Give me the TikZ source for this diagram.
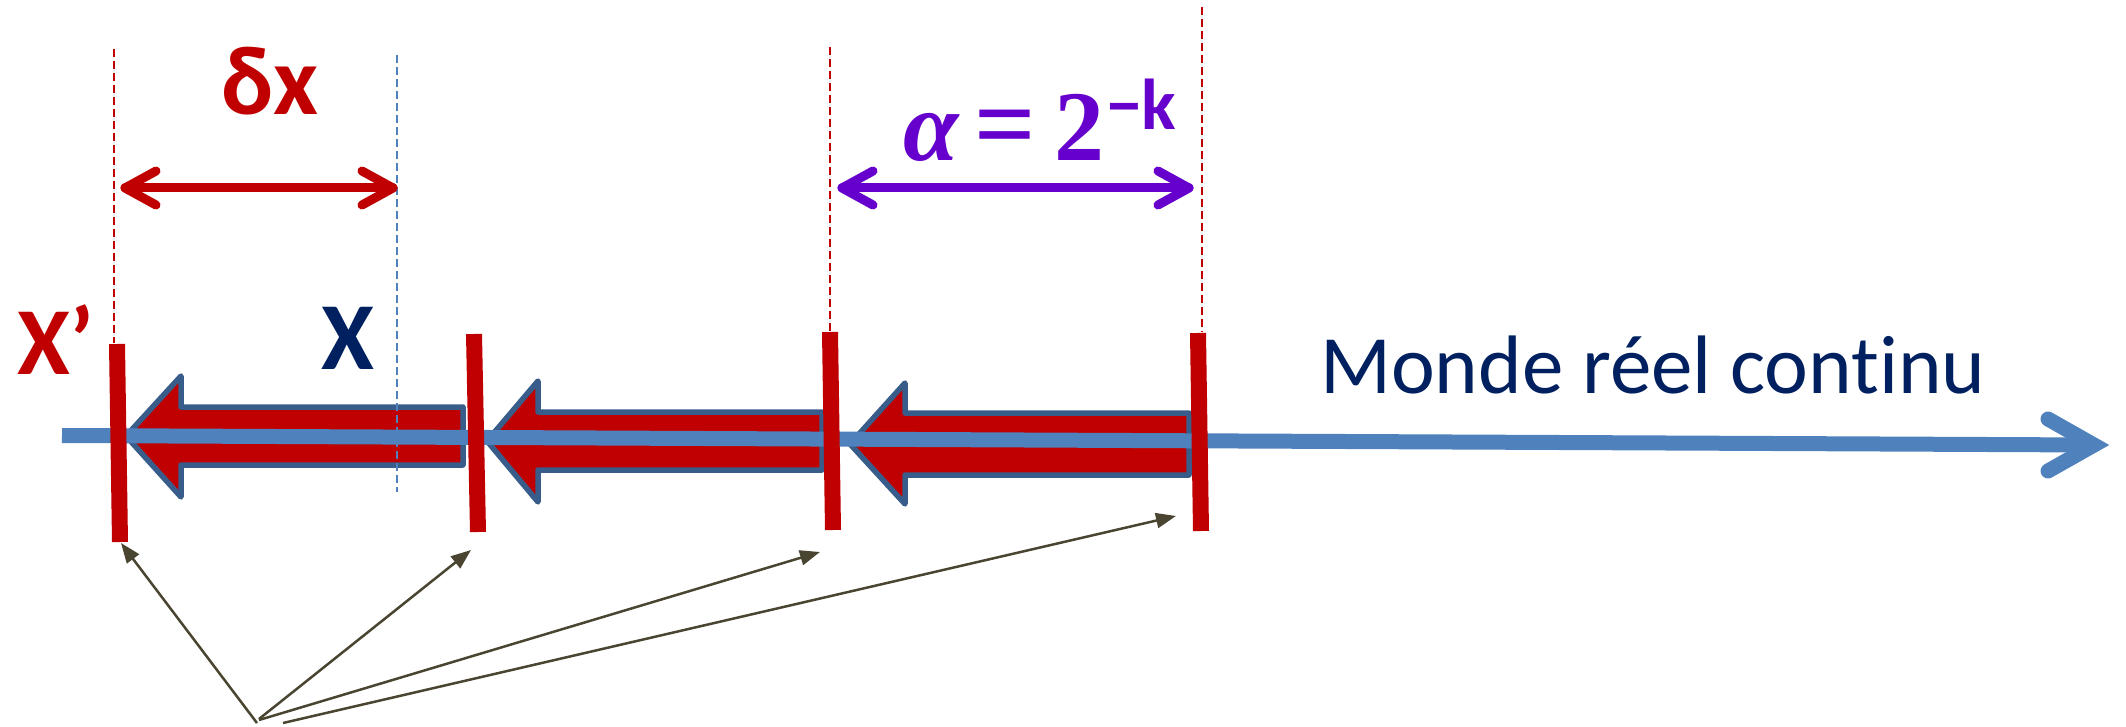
\documentclass[tikz,border=0pt]{standalone}
\usepackage[no-math]{fontspec}
\setmainfont{Carlito}[Ligatures={NoCommon,NoRare}]
\newfontfamily\symserif{Liberation Serif}
\usetikzlibrary{arrows.meta}
\definecolor{arrred}{HTML}{C00000}
\definecolor{arrborder}{HTML}{385D8A}
\definecolor{axisblue}{HTML}{4F81BD}
\definecolor{navy}{HTML}{002060}
\definecolor{violet}{HTML}{6600CC}
\definecolor{olivedark}{HTML}{4A4530}
\begin{document}
\begin{tikzpicture}[x=1pt,y=-1pt,
  blockarrow/.style={fill=arrred, draw=arrborder, line width=5.5pt, line join=round},
  tickbar/.style={draw=arrred, line width=16pt},
  guide/.style={draw=arrred, line width=2.5pt, dash pattern=on 8pt off 4pt},
  bguide/.style={draw=axisblue, line width=2.5pt, dash pattern=on 8pt off 4pt},
  dimline/.style={line width=9pt, line cap=round, line join=round},
  pointer/.style={draw=olivedark, line width=2.5pt, -{Triangle[length=20pt,width=15pt]}},
  lbl/.style={inner sep=0pt, anchor=base west},
  axisline/.style={draw=axisblue, line width=15pt}
]
\useasboundingbox (0,0) rectangle (2126,727);

% guide lines
\coordinate (g1t) at (114,49);   \coordinate (g1b) at (114,343);
\coordinate (g2t) at (830,47);   \coordinate (g2b) at (830,332);
\coordinate (g3t) at (1202,7);   \coordinate (g3b) at (1202,332);
\coordinate (gbt) at (397,55);   \coordinate (gbb) at (397,492);
\draw[guide] (g1t) -- (g1b);
\draw[guide] (g2t) -- (g2b);
\draw[guide] (g3t) -- (g3b);

% block arrows
\draw[blockarrow] (126,436) -- (181,376) -- (181,407) -- (463,407) -- (463,465) -- (181,465) -- (181,497) -- cycle;
\draw[blockarrow] (487,441) -- (538,381) -- (538,412) -- (822,412) -- (822,470) -- (538,470) -- (538,502) -- cycle;
\draw[blockarrow] (850,444) -- (905,383) -- (905,413) -- (1189,413) -- (1189,475) -- (905,475) -- (905,504) -- cycle;

% axis
\coordinate (axs) at (62,435.5);
\coordinate (axe) at (2094,445);
\draw[axisline] (axs) -- (axe);
\draw[axisline, line cap=round, line join=miter] (2048,419) -- (axe) -- (2048,471);

% blue guide
\draw[bguide] (gbt) -- (gbb);

% tick bars
\coordinate (b1t) at (117,344);  \coordinate (b1b) at (120,542);
\coordinate (b2t) at (474,334);  \coordinate (b2b) at (478,532);
\coordinate (b3t) at (830,332);  \coordinate (b3b) at (833,530);
\coordinate (b4t) at (1198,333); \coordinate (b4b) at (1201,531);
\draw[tickbar] (b1t) -- (b1b);
\draw[tickbar] (b2t) -- (b2b);
\draw[tickbar] (b3t) -- (b3b);
\draw[tickbar] (b4t) -- (b4b);

% dimension arrows
\coordinate (dL) at (125,188); \coordinate (dR) at (393,188);
\draw[dimline, draw=arrred] (dL) -- (dR);
\draw[dimline, draw=arrred] ([shift={(31,-17)}]dL) -- (dL) -- ([shift={(31,17)}]dL);
\draw[dimline, draw=arrred] ([shift={(-31,-17)}]dR) -- (dR) -- ([shift={(-31,17)}]dR);
\coordinate (aL) at (842,188); \coordinate (aR) at (1189,188);
\draw[dimline, draw=violet] (aL) -- (aR);
\draw[dimline, draw=violet] ([shift={(31,-17)}]aL) -- (aL) -- ([shift={(31,17)}]aL);
\draw[dimline, draw=violet] ([shift={(-31,-17)}]aR) -- (aR) -- ([shift={(-31,17)}]aR);

% labels
\node[lbl, text=violet, font=\bfseries\fontsize{98}{100}\selectfont, text=arrred] (deltax) at (221,115) {δx};
\node[lbl, text=violet, font=\fontsize{100}{104}\selectfont] (alpha) at (903,161)
  {{\symserif\bfseries\itshape α}\hspace{16pt}{\symserif\bfseries\fontsize{108}{110}\selectfont =}\hspace{18pt}{\symserif\bfseries 2}\hspace{2pt}\raisebox{31pt}{\fontsize{72}{74}\selectfont\bfseries −k}};
\node[lbl, text=arrred, font=\bfseries\fontsize{96}{100}\selectfont] (xp) at (17,374) {X’};
\node[lbl, text=navy, font=\bfseries\fontsize{96}{100}\selectfont] (x) at (321,370) {X};
\node[lbl, text=navy, font=\fontsize{83}{90}\selectfont] (monde) at (1320,393) {Monde réel continu};

% pointers
\coordinate (o1) at (257,723); \coordinate (o2) at (259,719);
\coordinate (o3) at (259,720); \coordinate (o4) at (283,723);
\coordinate (t1) at (121,543); \coordinate (t2) at (471,550);
\coordinate (t3) at (820,552); \coordinate (t4) at (1176,516);
\draw[pointer] (o1) -- (t1);
\draw[pointer] (o2) -- (t2);
\draw[pointer] (o3) -- (t3);
\draw[pointer] (o4) -- (t4);
\end{tikzpicture}
\end{document}
